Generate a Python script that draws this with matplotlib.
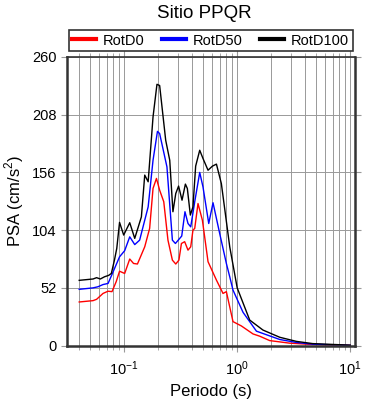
import matplotlib
matplotlib.use('Agg')
import matplotlib.pyplot as plt
from matplotlib.ticker import LogLocator, NullFormatter

plt.rcParams['font.family'] = ['Liberation Sans', 'DejaVu Sans']
plt.rcParams['mathtext.fontset'] = 'custom'
plt.rcParams['mathtext.rm'] = 'Liberation Sans'

# RotD100
t_d100 = [0.04, 0.053, 0.057, 0.0615, 0.067, 0.073, 0.077, 0.082, 0.086, 0.091,
          0.099, 0.112, 0.124, 0.142, 0.152, 0.163, 0.180, 0.195, 0.206, 0.233,
          0.253, 0.270, 0.286, 0.303, 0.325, 0.348, 0.362, 0.385, 0.406, 0.429,
          0.466, 0.498, 0.552, 0.604, 0.655, 0.724, 0.859, 1.0, 1.29, 1.69,
          2.38, 3.34, 4.66, 10.0]
psa_d100 = [58.8, 60, 61.2, 60, 62, 63.3, 65, 77, 87.6, 111,
            99.6, 110.7, 96.6, 116, 153.6, 147.6, 206, 235.4, 234.3, 185,
            167, 120.6, 137, 143.7, 131, 145.5, 141.6, 117.6, 125, 161.7,
            176, 168.6, 158, 161.7, 163.5, 146, 89, 52, 23, 14,
            7.5, 3.8, 1.8, 0.4]

# RotD50
t_d50 = [0.04, 0.053, 0.0586, 0.065, 0.072, 0.0787, 0.091, 0.101, 0.112, 0.124,
         0.137, 0.163, 0.180, 0.197, 0.206, 0.239, 0.267, 0.284, 0.323, 0.345,
         0.367, 0.388, 0.421, 0.466, 0.498, 0.560, 0.611, 0.700, 0.802, 0.859,
         0.918, 1.126, 1.48, 2.38, 3.34, 4.66, 10.0]
psa_d50 = [50.7, 52, 53, 55, 56, 65, 80, 85.5, 98, 91,
           95, 125, 167, 193, 191, 161, 95, 92, 98.7, 120.6,
           110, 107, 129.6, 156, 143, 110, 128.7, 101, 74, 62,
           50, 30, 13, 5.5, 2.8, 1.3, 0.2]

# RotD0
t_d0 = [0.04, 0.053, 0.057, 0.065, 0.072, 0.078, 0.085, 0.091, 0.101, 0.112,
        0.121, 0.131, 0.152, 0.168, 0.180, 0.193, 0.206, 0.224, 0.244, 0.267,
        0.286, 0.305, 0.321, 0.343, 0.367, 0.388, 0.406, 0.421, 0.450, 0.492,
        0.552, 0.655, 0.749, 0.802, 0.918, 1.089, 1.38, 1.58, 1.94, 2.91,
        4.66, 10.0]
psa_d0 = [39.3, 40.5, 41.7, 47, 49, 48.6, 57.6, 67, 65, 78,
          74, 73.5, 89, 105.6, 141.6, 150.6, 140, 129.6, 95, 77,
          73.5, 77, 92, 93.6, 86, 89, 104, 105.6, 128, 113,
          75.6, 59, 47, 48.6, 21.6, 17.7, 10.5, 8.5, 4.5, 2.2,
          1.0, 0.2]

y_ticks = [0, 52, 104, 156, 208, 260]

fig = plt.figure(figsize=(3.9, 4.0), dpi=100)
ax = fig.add_axes([0.171, 0.136, 0.739, 0.7215])

ax.plot(t_d0, psa_d0, color='red', lw=1.0, label='RotD0')
ax.plot(t_d50, psa_d50, color='blue', lw=1.0, label='RotD50')
ax.plot(t_d100, psa_d100, color='black', lw=1.0, label='RotD100')

ax.set_xscale('log')
ax.set_xlim(0.031, 11)
ax.set_ylim(0, 260)
ax.set_yticks(y_ticks)
ax.xaxis.set_major_locator(LogLocator(base=10, numticks=10))
ax.xaxis.set_minor_locator(LogLocator(base=10, subs=range(2, 10), numticks=20))
ax.xaxis.set_minor_formatter(NullFormatter())

ax.grid(True, which='both', axis='x', color='#999999', lw=0.7)
ax.grid(True, which='major', axis='y', color='#999999', lw=0.7)

ax.tick_params(which='both', direction='out', color='#999999',
               top=True, right=True, labelsize=10.5)
ax.tick_params(which='major', length=4)
ax.tick_params(which='minor', length=3)
ax.tick_params(axis='x', pad=6)

for s in ['left', 'bottom', 'right']:
    ax.spines[s].set_linewidth(1.8)
    ax.spines[s].set_color('#333333')
ax.spines['top'].set_linewidth(1.2)
ax.spines['top'].set_color('#333333')

ax.set_xlabel('Periodo (s)', fontsize=12, labelpad=4)
ax.set_ylabel('PSA (cm/s$^2$)', fontsize=12, labelpad=4)

fig.text(0.525, 0.966, 'Sitio PPQR', ha='center', va='center', fontsize=13.5)

leg = ax.legend(loc='lower center', bbox_to_anchor=(0.5, 1.02), ncol=3,
                frameon=True, fancybox=False, edgecolor='black', fontsize=10.5,
                handlelength=1.6, columnspacing=1.2, handletextpad=0.5,
                borderpad=0.25, borderaxespad=0.0)
leg.get_frame().set_linewidth(1.2)
for h in leg.legend_handles:
    h.set_linewidth(3)

fig.savefig('out.png', dpi=100)
